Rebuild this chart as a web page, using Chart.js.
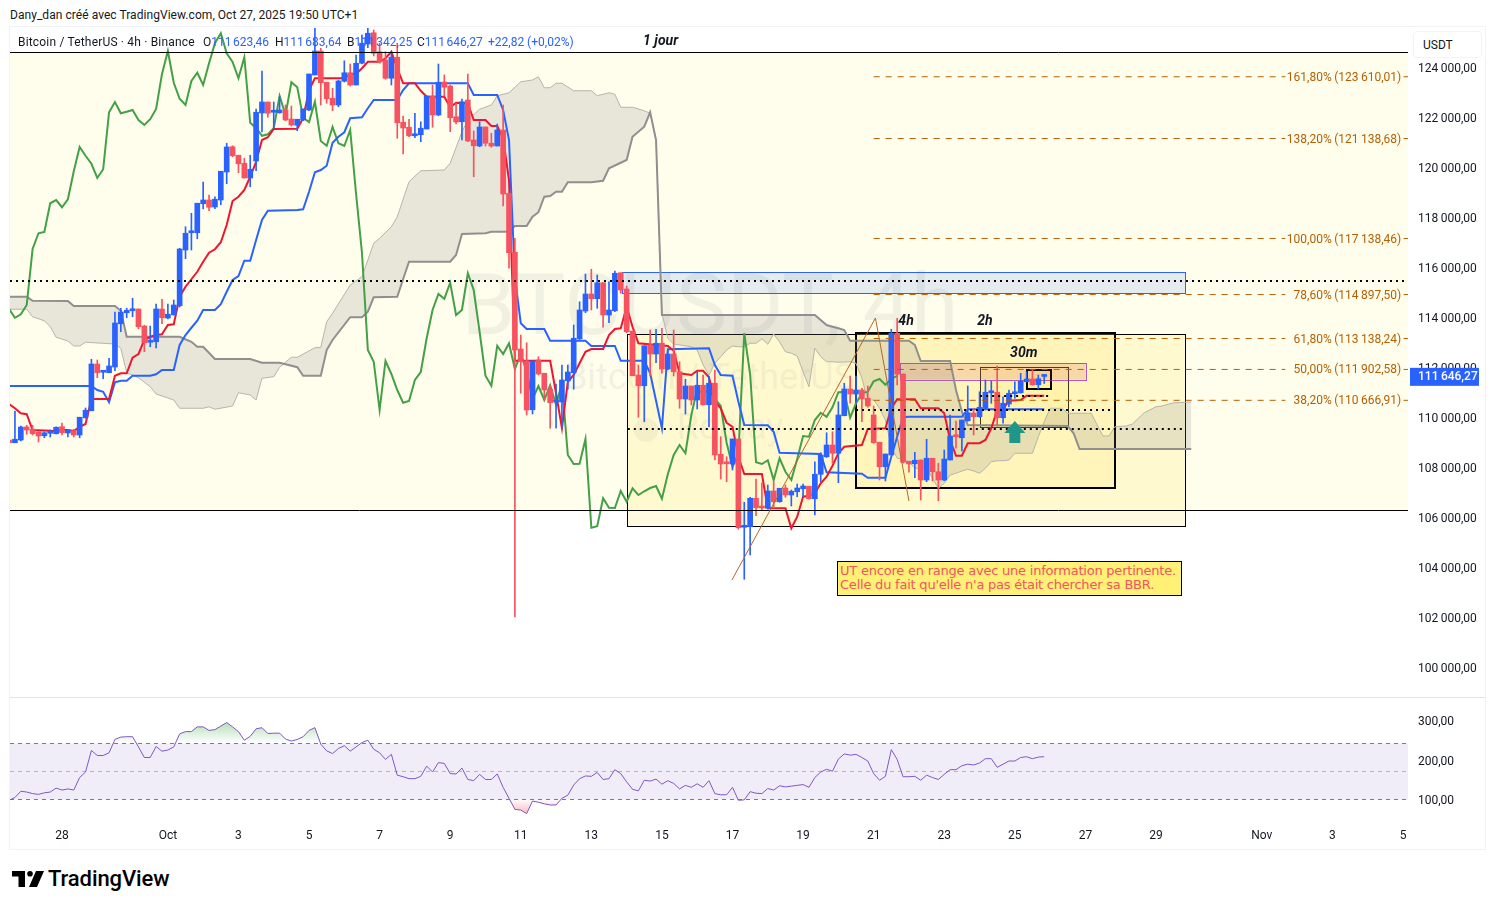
<!DOCTYPE html>
<html lang="fr">
<head>
<meta charset="utf-8">
<title>BTCUSDT 4h</title>
<script src="https://cdn.jsdelivr.net/npm/chart.js@4"></script>
<style>
    html, body { margin: 0; padding: 0; background: #fff; width: 1495px; height: 909px; overflow: hidden; }
    body { font-family: Roboto, sans-serif; font-size: 12px; color: #131722; position: relative; }
    canvas { position: absolute; left: 10px; }
    #prix { top: 28px; }
    #rsi { top: 698px; }
    .abs { position: absolute; white-space: nowrap; line-height: 14px; }
    #cadre { position: absolute; left: 9px; top: 26px; width: 1475px; height: 822px; border: 1px solid #f0f3fa; }
    #sep { position: absolute; left: 10px; top: 697px; width: 1475px; height: 1px; background: #e0e3eb; }
    #devise { position: absolute; left: 1413px; top: 31px; width: 67px; height: 25px; border: 1px solid #f0f3fa; border-radius: 4px; line-height: 26px; text-indent: 9px; background: #fff; }
    #note { position: absolute; left: 837px; top: 561px; width: 341px; height: 31px; background: #FFF176; border: 1px solid #000;
            color: #F7525F; font: 13px/14px "DejaVu Sans", sans-serif; padding-left: 2px; padding-top: 2px; white-space: nowrap; letter-spacing: -0.22px; }
    .v { color: #2962FF; }
    #logo { position: absolute; left: 12px; top: 871px; }
    #marque { position: absolute; left: 48px; top: 866px; font: 500 22px/26px Roboto, sans-serif; color: #000; letter-spacing: -0.1px; }
</style>
</head>
<body>
<div id="cadre"></div>
<div class="abs" style="left:10px;top:8px;letter-spacing:0.05px;">Dany_dan créé avec TradingView.com, Oct 27, 2025 19:50 UTC+1</div>
<canvas id="prix" width="1475" height="669"></canvas>
<div id="sep"></div>
<canvas id="rsi" width="1475" height="151"></canvas>
<div id="devise">USDT</div>
<div class="abs" style="left:18px;top:35px;letter-spacing:0.18px;">Bitcoin / TetherUS · 4h · Binance</div>
<div class="abs" style="left:203px;top:35px;">O<span class="v">111&#8201;623,46</span></div>
<div class="abs" style="left:275px;top:35px;">H<span class="v">111&#8201;683,64</span></div>
<div class="abs" style="left:347px;top:35px;">B<span class="v">111&#8201;342,25</span></div>
<div class="abs" style="left:417px;top:35px;">C<span class="v">111&#8201;646,27</span></div>
<div class="abs v" style="left:488px;top:35px;">+22,82 (+0,02%)</div>
<div id="note">UT encore en range avec une information pertinente.<br>Celle du fait qu'elle n'a pas était chercher sa BBR.</div>
<svg id="logo" width="32" height="16" viewBox="0 0 32 16"><path d="M0 0h13v16H6.500V5.500H0z M24 0h8l-7 16h-8z" fill="#000"/><circle cx="18" cy="2.800" r="2.800" fill="#000"/></svg>
<div id="marque">TradingView</div>

<script>
// Bougies 4h (une valeur par barre)
const opens = [
    109080,108970,109080,109600,109510,109400,109250,109350,109330,109610,
    109360,109450,109280,109970,110250,112120,111790,111770,112000,113730,
    114170,114250,114320,113640,112990,113010,114320,113960,114090,114450,
    116680,117370,117370,118530,118680,118400,118680,119800,120810,120470,
    120150,119560,120240,122160,122600,122190,122170,122280,121920,121670,
    121880,122280,123680,124640,123390,122750,122480,123430,123770,123280,
    124150,124920,125370,124610,124280,123550,124390,121790,121590,121250,
    121290,121520,122840,122080,123400,123240,122010,121810,122680,121080,
    120840,121600,120950,120840,121480,118950,116590,112720,112240,110290,
    112280,111750,111110,110600,110600,111450,111770,113130,114240,114920,
    114730,115370,114080,114250,115770,115120,113440,111680,111250,112880,
    112520,112950,111920,112520,111810,110720,111240,110680,111270,110490,
    111350,108510,108160,108120,109120,105590,105610,106750,106390,106350,
    107040,106610,107160,106880,107010,107130,107230,106730,107710,108410,
    108880,108550,110050,111120,110920,111080,110750,110080,108990,108010,
    108480,113350,111720,108230,108130,108280,107480,108350,107810,107480,
    108280,109240,109170,109850,110160,110010,110350,110970,110990,109970,
    110520,110930,110970,111410,111520,111290,111623.46
];
const highs = [
    109080,110240,109640,109670,109670,109400,109410,109480,109610,109760,
    109470,109510,109990,110360,112310,112280,111850,112350,114200,114350,
    114350,114750,114320,113670,113640,114520,114710,114520,114680,116750,
    117610,118150,118550,119400,118880,118810,119830,120950,120850,120470,
    120350,120470,122320,123840,122600,122600,122810,122480,122440,121910,
    122320,123720,125640,124750,123390,123150,123480,124250,124120,124480,
    125280,125610,125480,124950,124610,124610,124950,122040,121910,122150,
    121810,122840,123280,124120,123680,123280,122550,122720,123720,121440,
    121810,121600,121350,121720,122480,118950,117150,113280,112970,112240,
    112410,111750,111280,111320,112080,112080,113680,114610,115720,115910,
    115680,115370,115410,115840,115770,115240,113440,112080,112850,113480,
    113510,113550,112710,113480,112210,111510,111240,111810,111680,111640,
    111880,109210,108410,109120,109120,106590,106790,107520,107370,107280,
    107410,107150,107280,107080,107320,107320,107230,108210,108570,109370,
    109410,110610,111350,111640,111640,111150,111240,110440,108990,108520,
    113510,113950,111720,108230,108590,108280,109110,108350,108150,108680,
    110080,109840,109880,111240,110350,111010,111480,111440,112040,110810,
    111080,111410,111750,111810,111880,111680,111683.64
];
const lows = [
    108970,108970,109040,109310,109280,109000,109170,109200,109320,109280,
    109200,109200,109170,109950,110250,111570,111530,111770,111850,113410,
    113970,114010,113530,112610,112810,112760,113730,113920,114070,114400,
    116330,116680,117130,118320,118250,118330,118490,119330,120410,119770,
    119560,119210,119850,121400,121990,121550,122150,121850,121640,121450,
    121850,122250,123680,122480,122550,122250,122410,123400,123240,123280,
    124120,124770,124440,124150,123510,123280,121150,120520,121210,121170,
    121010,121520,121590,122050,122840,121410,121720,121080,121010,119610,
    120810,120840,120790,120840,118440,115950,102000,110950,110080,110120,
    111680,110680,109550,109550,109550,111110,111110,113100,114170,114280,
    114350,113590,113770,114210,114950,113370,111650,109990,109810,111640,
    112170,111750,111890,111640,110350,110120,110480,110320,110470,109610,
    108280,107520,107410,107880,105510,103510,104480,106050,106280,106320,
    106350,106590,106790,106440,106810,106810,106710,106080,107410,108380,
    108150,107370,110050,110550,110550,109810,110390,108950,107480,107440,
    108480,111280,108150,107790,107570,106680,107410,107440,106650,107450,
    108280,108750,108640,109830,109280,109990,110330,110550,109640,109750,
    110410,110750,110950,111400,111270,111120,111342.25
];
const closes = [
    108970,109110,109600,109480,109330,109240,109370,109370,109590,109370,
    109470,109280,109990,110270,112120,111770,111810,112040,113760,114200,
    114270,114320,113610,112970,113030,114320,113970,114110,114480,116720,
    117350,117400,118550,118680,118390,118710,119830,120800,120450,120130,
    119560,119910,122190,122600,122150,122210,122280,121880,121680,121910,
    122320,123720,124640,123370,122730,122480,123440,123770,123280,124150,
    124950,125350,124550,124200,123550,124390,121770,121560,121250,121310,
    121550,122840,122080,123390,123190,121970,121800,122610,121040,120850,
    121600,120950,120840,121480,118920,116570,112680,112210,110280,112240,
    111720,111080,110570,110640,111480,111800,113150,114280,114920,114730,
    115370,114080,114280,115750,115080,113410,111650,111250,112850,112520,
    112950,111920,112520,111810,110720,111240,110680,111270,110490,111350,
    108480,108120,108130,109120,105570,105630,106750,106370,106360,107040,
    106610,107150,106880,107030,107160,107240,106730,107710,108480,108880,
    108550,110080,111120,110920,111080,110720,110440,108970,108010,108520,
    113350,111710,108190,108120,108270,107480,108350,107810,107480,108320,
    109240,109210,109880,110170,110010,110390,110990,111000,109970,110550,
    110950,111010,111430,111520,111290,111530,111646.27
];

// Ichimoku : tenkan et kijun, sommets (barre, prix)
const tenkanBars = [0,1,2,3,4,8,9,10,11,12,13,14,17,18,19,20,21,22,23,24,25,26,27,28,29,30,31,32,33,34,35,36,37,38,39,40,41,42,43,44,45,49,50,51,52,57,58,59,60,61,63,64,65,66,67,69,70,71,74,75,76,78,79,81,82,83,84,85,86,92,93,94,95,96,97,98,99,101,102,103,104,105,106,107,112,113,114,116,117,118,119,120,121,122,123,124,125,128,129,132,133,134,135,136,137,138,139,140,141,142,145,146,149,150,151,154,155,158,159,160,161,162,163,165,166,167,168,169,170,172,173,176];
const tenkanVals = [110520,110350,110150,110110,109480,109440,109480,109480,109440,109610,109720,110720,110720,111650,111750,111750,112370,112520,113080,113210,113280,113310,113680,113710,114810,115210,115510,115810,116210,116570,116710,116990,117680,118640,118810,119080,119610,120210,121080,121190,121520,121530,121950,123080,123550,123550,123720,123720,123950,124210,124210,124350,124610,123950,123350,123350,123050,122810,122810,122390,122570,122550,121880,121880,121640,121640,121150,119480,112250,112250,110950,109550,111410,111680,112150,112610,112720,112720,113280,113520,113550,114410,113610,112950,112840,112650,111750,111680,111850,111850,111590,110610,110350,109770,109610,108410,107720,107720,106350,106350,105550,106010,106810,106850,106950,107350,107610,108050,108550,108810,108880,109520,109550,110350,110710,110710,110350,110350,110150,109080,108450,108450,108950,108950,109080,109550,110280,110310,110650,110680,110850,110850];
const kijunBars = [0,14,15,16,17,18,19,20,21,24,25,26,28,29,30,31,32,33,35,36,37,38,39,40,41,42,43,44,49,50,51,52,53,54,55,56,57,58,60,61,62,66,67,68,78,79,83,84,85,86,87,88,91,92,98,99,103,104,108,109,110,111,112,119,120,121,123,124,125,129,130,131,138,139,145,146,149,150,151,152,153,162,163,176];
const kijunVals = [111240,111240,111080,111010,110590,111390,111450,111450,111650,111650,111710,111880,111880,112880,113280,113570,113850,114280,114280,114510,115010,115480,115640,116250,116250,117080,117880,118250,118280,118310,119010,119790,119880,120050,120970,121210,121390,121950,121990,122350,122680,122680,123080,123350,123350,122880,122880,122280,121080,115600,113750,113520,113520,113050,113050,112840,112840,112250,112250,111750,110650,109550,112710,112750,112080,111680,111650,110610,109680,109670,109410,108570,108520,107790,107730,107570,107570,108410,109210,109990,110010,110010,110310,110310];

// Chikou : une valeur par barre, de la barre 0 à la barre 151
const chikouVals = [
    114320,113970,114110,114480,116720,
    117350,117400,118550,118680,118390,118710,119830,120800,120450,120130,
    119560,119910,122190,122600,122150,122210,122280,121880,121680,121910,
    122320,123720,124640,123370,122730,122480,123440,123770,123280,124150,
    124950,125350,124550,124200,123550,124390,121770,121560,121250,121310,
    121550,122840,122080,123390,123190,121970,121800,122610,121040,120850,
    121600,120950,120840,121480,118920,116570,112680,112210,110280,112240,
    111720,111080,110570,110640,111480,111800,113150,114280,114920,114730,
    115370,114080,114280,115750,115080,113410,111650,111250,112850,112520,
    112950,111920,112520,111810,110720,111240,110680,111270,110490,111350,
    108480,108120,108130,109120,105570,105630,106750,106370,106360,107040,
    106610,107150,106880,107030,107160,107240,106730,107710,108480,108880,
    108550,110080,111120,110920,111080,110720,110440,108970,108010,108520,
    113350,111710,108190,108120,108270,107480,108350,107810,107480,108320,
    109240,109210,109880,110170,110010,110390,110990,111000,109970,110550,
    110950,111010,111430,111520,111290,111530,111646
];

// Nuage
const spanABars = [0,3,4,6,7,8,10,11,12,13,18,19,20,22,24,25,28,29,33,34,35,38,39,41,42,43,45,46,48,49,52,53,54,55,58,60,62,63,65,66,68,70,74,75,77,78,80,82,83,85,87,89,90,91,92,93,94,96,99,100,102,103,104,106,108,109,110,111,112,113,116,117,118,119,120,121,122,123,124,125,126,127,128,129,130,131,132,133,134,135,136,137,138,139,140,141,143,144,145,146,147,148,149,150,151,152,153,154,156,157,158,159,160,161,162,163,164,165,166,167,168,169,170,171,174,175,176,177,179,180,184,185,186,187,188,190,191,192,193,195,196,198,201];
const spanAVals = [114310,114310,114010,113850,113610,113190,113040,112840,112840,112990,112920,112750,111770,111570,111210,110920,110680,110350,110350,110410,110310,110440,110970,110880,110680,111550,111610,111990,112390,112390,112770,112790,113810,114150,115280,115610,116950,117150,117610,118010,119410,119850,119880,120150,121410,121880,122310,122480,122850,122970,123410,123480,123610,123170,123170,123350,123350,123050,123050,122850,122970,122910,122390,122390,122250,122150,121080,114150,113150,112920,112810,112680,112080,111680,112150,112410,112680,112840,112810,112810,112950,112950,113130,112910,113320,113010,112610,112550,112440,111810,111210,112750,112410,112210,112210,112190,112210,112150,111550,110680,110680,110350,109880,108810,108350,108310,108210,107950,107950,107550,107150,107350,107680,107750,107840,107910,107840,107750,107950,108210,108250,108250,108280,108550,108550,109210,109810,110350,110350,110150,110150,109680,109240,109240,109610,109640,109720,109950,110170,110410,110440,110570,110600];
const spanBBars = [0,3,4,10,11,18,19,20,29,31,32,33,35,41,43,46,49,50,53,54,55,58,60,61,62,66,67,68,75,76,77,81,82,85,86,88,89,90,91,92,93,94,95,99,101,102,105,106,108,109,110,111,137,139,140,141,142,143,153,154,155,160,161,162,163,180,181,182,201];
const spanBVals = [114810,114810,114650,114640,114440,114440,114250,113210,113210,113010,112810,112810,112320,112320,112170,112170,111990,111650,111650,112680,113080,113990,113990,114210,114790,114810,115520,116210,116210,116480,117320,117350,117410,117410,117640,117640,118010,118190,118810,118840,119010,119010,119390,119390,119450,119950,120280,121210,121610,122190,121080,114080,114080,113680,113610,113550,113480,113050,113050,112880,112240,112240,111080,110210,109680,109640,109350,108720,108720];

// RSI, une valeur par barre
const rsiVals = [
    98,105,121,119,115,113,117,119,129,124,127,124,156,170,225,212,212,219,253,259,
    260,260,234,207,207,235,223,226,234,267,273,273,285,285,276,278,287,296,285,273,
    251,261,280,283,268,269,269,254,249,253,260,276,283,241,224,217,230,237,223,234,
    245,251,228,219,202,215,162,158,153,153,159,185,170,194,192,166,165,180,151,148,
    164,151,151,165,131,103,75,73,64,96,93,89,86,86,103,111,137,153,160,159,
    169,151,153,176,166,145,126,122,149,147,152,139,148,141,127,136,131,140,131,148,
    115,112,112,131,98,99,120,116,115,128,124,135,132,134,136,138,131,156,170,177,
    172,203,216,213,215,207,198,166,149,159,227,202,158,158,159,149,162,156,151,164,
    176,176,186,190,188,193,204,204,182,190,198,198,207,209,204,208,209
];
const rsiHaut = 242.7, rsiMilieu = 171.4, rsiBas = 100;
const rsiTicks = [100, 200, 300];

// Axes
const prixTicks = [100000,102000,104000,106000,108000,110000,112000,114000,116000,118000,120000,122000,124000];
const dateBars = [9,27,39,51,63,75,87,99,111,123,135,147,159,171,183,195,213,225,237];
const dateLabels = ["28","Oct","3","5","7","9","11","13","15","17","19","21","23","25","27","29","Nov","3","5"];
const barMin = 0.158, barMax = 237.85;
const dernierPrix = 111646.27;

// Fibonacci
const fibVals = [123610.01,121138.68,117138.46,114897.50,113138.24,111902.58,110666.91];
const fibTextes = ["161,80%\u2009(123\u2009610,01)","138,20%\u2009(121\u2009138,68)","100,00%\u2009(117\u2009138,46)","78,60%\u2009(114\u2009897,50)","61,80%\u2009(113\u2009138,24)","50,00%\u2009(111\u2009902,58)","38,20%\u2009(110\u2009666,91)"];
const fibDebut = 147, fibFin = 217, fibTiret = 237.1;

// Tracés : ligne brune, horizontales, zones
const brunBars = [122.9, 147.3, 153];
const brunVals = [103480, 113960, 106640];
const traitPrix = [124580, 106260];
const pointillePrix = [115440, 110280, 109520, 110840];
const pointilleDebut = [0.158, 144, 105.2, 165.1];
const pointilleFin = [237.85, 187.5, 199.6, 177];

const zoneJour = [124600, 106280];
const bleueZone = [104.2, 200, 115780, 114960];
const violetteZone = [151.5, 183.05, 112160, 111500];
const boiteFine = [[105.06, 199.9, 113320, 105640], [165.1, 180.1, 112020, 109640]];
const boiteEpaisse = [[144, 188, 113360, 107160], [173.1, 177.1, 111880, 111120]];

const notesTextes = ["1 jour", "4h", "2h", "30m"];
const notesBars = [107.8, 151.2, 164.6, 170.2];
const notesPrix = [125040, 113840, 113840, 112560];
const flecheBar = 171, flechePrix = 109840;

function format(v) {
    const [e, d] = v.toFixed(2).split(".");
    return e.replace(/\B(?=(\d{3})+$)/g, "\u2009") + "," + d;
}

function points(xs, ys) {
    return xs.map((x, i) => ({ x: x, y: ys[i] }));
}

const bleu = "#2962FF", rouge = "#F7525F";
const couleurs = closes.map((c, i) => (c >= opens[i] ? bleu : rouge));
const toutesBarres = closes.map((c, i) => i);

function rect(ctx, sx, sy, z) {
    const x = sx.getPixelForValue(z[0]), x2 = sx.getPixelForValue(z[1]);
    const y = sy.getPixelForValue(z[2]), y2 = sy.getPixelForValue(z[3]);
    return [x, y, x2 - x, y2 - y];
}

const dessinsAvant = {
    id: "dessinsAvant",
    beforeDatasetsDraw(chart) {
        const ctx = chart.ctx, sx = chart.scales.x, sy = chart.scales.y;
        const a = chart.chartArea;
        ctx.save();
        // fond jaune pâle
        const yh = sy.getPixelForValue(zoneJour[0]), yb = sy.getPixelForValue(zoneJour[1]);
        ctx.fillStyle = "#FFFEEC";
        ctx.fillRect(a.left, yh, a.right - a.left, yb - yh);
        // filigrane
        ctx.fillStyle = "rgba(120,123,134,0.1)";
        ctx.textAlign = "center";
        ctx.textBaseline = "middle";
        ctx.font = "86px Roboto, sans-serif";
        ctx.fillText("BTCUSDT, 4h", 700, 284);
        ctx.font = "36px Roboto, sans-serif";
        ctx.fillText("Bitcoin / TetherUS", 700, 352);
        ctx.font = "36px Roboto, sans-serif";
        ctx.fillText("Replay", 720, 402);
        ctx.beginPath();
        ctx.arc(636, 402, 12, 0, Math.PI * 2);
        ctx.fill();
        // boîtes
        ctx.fillStyle = "rgba(255,235,120,0.24)";
        ctx.strokeStyle = "#000";
        ctx.lineWidth = 1;
        boiteFine.forEach(b => {
            const r = rect(ctx, sx, sy, b);
            ctx.fillRect(...r);
            ctx.strokeRect(Math.round(r[0]) + 0.5, Math.round(r[1]) + 0.5, Math.round(r[2]), Math.round(r[3]));
        });
        ctx.lineWidth = 2;
        boiteEpaisse.forEach(b => {
            const r = rect(ctx, sx, sy, b);
            ctx.fillRect(...r);
            ctx.strokeRect(Math.round(r[0]), Math.round(r[1]), Math.round(r[2]), Math.round(r[3]));
        });
        // zone bleue
        let r = rect(ctx, sx, sy, bleueZone);
        ctx.lineWidth = 1;
        ctx.fillStyle = "rgba(41,98,255,0.12)";
        ctx.strokeStyle = bleu;
        ctx.fillRect(...r);
        ctx.strokeRect(Math.round(r[0]) + 0.5, Math.round(r[1]) + 0.5, Math.round(r[2]), Math.round(r[3]));
        // zone violette
        r = rect(ctx, sx, sy, violetteZone);
        ctx.fillStyle = "rgba(210,60,70,0.16)";
        ctx.strokeStyle = "rgba(156,39,176,0.75)";
        ctx.fillRect(...r);
        ctx.strokeRect(Math.round(r[0]) + 0.5, Math.round(r[1]) + 0.5, Math.round(r[2]), Math.round(r[3]));
        ctx.restore();
    }
};

const dessinsApres = {
    id: "dessinsApres",
    afterDatasetsDraw(chart) {
        const ctx = chart.ctx, sx = chart.scales.x, sy = chart.scales.y;
        ctx.save();
        // niveaux fibonacci
        ctx.font = "12px Roboto, sans-serif";
        ctx.textAlign = "right";
        ctx.textBaseline = "middle";
        ctx.fillStyle = "#B45F06";
        fibTextes.forEach((t, i) => {
            ctx.fillText(t, sx.getPixelForValue(236.7), sy.getPixelForValue(fibVals[i]) + 1);
        });
        // notes
        ctx.font = "italic bold 14px Roboto, sans-serif";
        ctx.textAlign = "left";
        ctx.fillStyle = "#131722";
        notesTextes.forEach((t, i) => {
            ctx.fillText(t, sx.getPixelForValue(notesBars[i]), sy.getPixelForValue(notesPrix[i]));
        });
        // flèche
        const fx = sx.getPixelForValue(flecheBar), fy = sy.getPixelForValue(flechePrix);
        ctx.fillStyle = "#1F9688";
        ctx.beginPath();
        ctx.moveTo(fx, fy);
        ctx.lineTo(fx + 10.5, fy + 12);
        ctx.lineTo(fx + 5.5, fy + 12);
        ctx.lineTo(fx + 5.5, fy + 22);
        ctx.lineTo(fx - 5.5, fy + 22);
        ctx.lineTo(fx - 5.5, fy + 12);
        ctx.lineTo(fx - 10.5, fy + 12);
        ctx.closePath();
        ctx.fill();
        // étiquette du dernier prix
        const py = sy.getPixelForValue(dernierPrix);
        ctx.fillStyle = bleu;
        ctx.fillRect(chart.chartArea.right + 2, py - 8, 69, 18);
        ctx.fillStyle = "#fff";
        ctx.font = "500 12px Roboto, sans-serif";
        ctx.fillText(format(dernierPrix), chart.chartArea.right + 10, py + 1.5);
        ctx.restore();
    }
};

function ligneDataset(data, couleur, largeur, ordre, extra) {
    return Object.assign({
        type: "line",
        data: data,
        borderColor: couleur,
        borderWidth: largeur,
        pointRadius: 0,
        tension: 0,
        fill: false,
        order: ordre
    }, extra || {});
}

const jeux = [
    ligneDataset(points(spanABars, spanAVals), "#B5B5AE", 1, 10, { fill: "+1", backgroundColor: "rgba(120,123,134,0.18)" }),
    ligneDataset(points(spanBBars, spanBVals), "#8F8F8F", 2, 9),
    ligneDataset(points(toutesBarres.slice(0, chikouVals.length), chikouVals), "#43A047", 2, 8),
    ligneDataset(points(kijunBars, kijunVals), bleu, 2, 7),
    ligneDataset(points(tenkanBars, tenkanVals), "#F0152F", 2, 6),
    {
        type: "bar",
        data: toutesBarres.map(i => ({ x: i, y: [lows[i], highs[i]] })),
        backgroundColor: couleurs,
        barThickness: 1,
        grouped: false,
        order: 5
    },
    {
        type: "bar",
        data: toutesBarres.map(i => ({ x: i, y: [opens[i], closes[i]] })),
        backgroundColor: couleurs,
        barThickness: 5,
        minBarLength: 2,
        grouped: false,
        order: 4
    },
    ligneDataset(points(brunBars, brunVals), "#B2682C", 1, 3)
];

traitPrix.forEach(p => {
    jeux.push(ligneDataset([{ x: barMin, y: p }, { x: barMax, y: p }], "#000", 1, 3));
});
pointillePrix.forEach((p, i) => {
    jeux.push(ligneDataset([{ x: pointilleDebut[i], y: p }, { x: pointilleFin[i], y: p }], "#000", 2, 2, { borderDash: [2, 4] }));
});
fibVals.forEach(p => {
    jeux.push(ligneDataset([{ x: fibDebut, y: p }, { x: fibFin, y: p }, { x: fibFin + 1, y: null }, { x: fibTiret, y: p }, { x: barMax, y: p }],
        "#B45F06", 1, 1, { borderDash: [6, 6] }));
});

// la marge des libellés ne doit pas réduire la zone de tracé
function axeDroit(s) {
    s.width = 77;
    s.paddingTop = 0;
    s.paddingBottom = 0;
}

// ligne vide + interligne de 3px : descend le libellé de 1,5px
const policeAxeDroit = { family: "Roboto", size: 12, lineHeight: "3px" };
const libelleAxeDroit = v => ["", format(v)];

new Chart(document.getElementById("prix"), {
    type: "bar",
    data: { datasets: jeux },
    plugins: [dessinsAvant, dessinsApres],
    options: {
        responsive: false,
        animation: false,
        parsing: { xAxisKey: "x", yAxisKey: "y" },
        layout: { padding: 0 },
        plugins: { legend: { display: false }, tooltip: { enabled: false } },
        scales: {
            x: { type: "linear", display: false, min: barMin, max: barMax, offset: false, grid: { display: false } },
            y: {
                position: "right",
                min: 98800,
                max: 125560,
                grid: { display: false, drawTicks: false },
                border: { display: false },
                afterFit: axeDroit,
                afterBuildTicks(s) { s.ticks = prixTicks.map(v => ({ value: v })); },
                ticks: {
                    padding: 10,
                    color: "#131722",
                    font: policeAxeDroit,
                    callback: libelleAxeDroit
                }
            }
        }
    }
});

// Panneau RSI
const rsiCanvas = document.getElementById("rsi");
const rsiCtx = rsiCanvas.getContext("2d");
const degradeVert = rsiCtx.createLinearGradient(0, 22, 0, 45);
degradeVert.addColorStop(0, "rgba(76,175,80,0.45)");
degradeVert.addColorStop(1, "rgba(76,175,80,0)");
const degradeRouge = rsiCtx.createLinearGradient(0, 101, 0, 118);
degradeRouge.addColorStop(0, "rgba(242,54,69,0)");
degradeRouge.addColorStop(1, "rgba(242,54,69,0.4)");

const rsiPoints = points(toutesBarres, rsiVals);

const bandeRsi = {
    id: "bandeRsi",
    beforeDatasetsDraw(chart) {
        const ctx = chart.ctx, sy = chart.scales.y, a = chart.chartArea;
        const h = sy.getPixelForValue(rsiHaut), b = sy.getPixelForValue(rsiBas);
        ctx.save();
        ctx.fillStyle = "rgba(126,87,194,0.11)";
        ctx.fillRect(a.left, h, a.right - a.left, b - h);
        ctx.restore();
    }
};

new Chart(rsiCanvas, {
    type: "line",
    data: {
        datasets: [
            ligneDataset([{ x: barMin, y: rsiHaut }, { x: barMax, y: rsiHaut }], "#787B86", 1, 5, { borderDash: [4, 4] }),
            ligneDataset([{ x: barMin, y: rsiMilieu }, { x: barMax, y: rsiMilieu }], "rgba(120,123,134,0.5)", 1, 5, { borderDash: [4, 4] }),
            ligneDataset([{ x: barMin, y: rsiBas }, { x: barMax, y: rsiBas }], "#787B86", 1, 5, { borderDash: [4, 4] }),
            ligneDataset(rsiPoints, "#7E57C2", 1, 1, { fill: { target: { value: rsiHaut }, above: degradeVert, below: "transparent" } }),
            ligneDataset(rsiPoints, "rgba(0,0,0,0)", 0, 2, { fill: { target: { value: rsiBas }, above: "transparent", below: degradeRouge } })
        ]
    },
    plugins: [bandeRsi],
    options: {
        responsive: false,
        animation: false,
        layout: { padding: 0 },
        plugins: { legend: { display: false }, tooltip: { enabled: false } },
        scales: {
            x: {
                type: "linear",
                min: barMin,
                max: barMax,
                grid: { display: false, drawTicks: false },
                border: { display: false },
                afterFit(s) { s.height = 24; },
                afterBuildTicks(s) { s.ticks = dateBars.map(v => ({ value: v })); },
                ticks: {
                    padding: 4,
                    autoSkip: false,
                    maxRotation: 0,
                    color: "#131722",
                    font: { family: "Roboto", size: 12 },
                    callback: v => dateLabels[dateBars.indexOf(v)]
                }
            },
            y: {
                position: "right",
                min: 35,
                max: 358.6,
                grid: { display: false, drawTicks: false },
                border: { display: false },
                afterFit: axeDroit,
                afterBuildTicks(s) { s.ticks = rsiTicks.map(v => ({ value: v })); },
                ticks: {
                    padding: 10,
                    color: "#131722",
                    font: policeAxeDroit,
                    callback: libelleAxeDroit
                }
            }
        }
    }
});
</script>
</body>
</html>
